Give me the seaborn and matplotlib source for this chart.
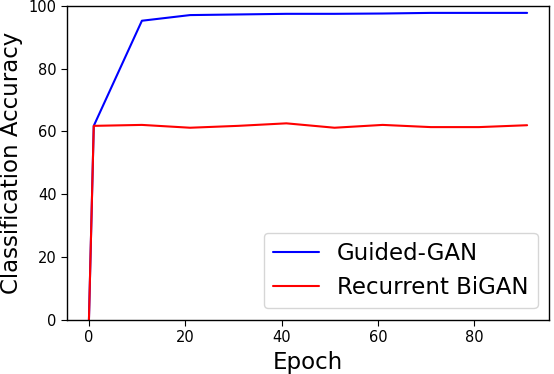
import pandas as pd
import matplotlib
matplotlib.use('Agg')
import matplotlib.pyplot as plt
import seaborn as sns

sns.set_style('ticks', {'text.color': 'black', 'axes.labelcolor': 'black',
                        'xtick.color': 'black', 'ytick.color': 'black'})
plt.rcParams['font.family'] = ['DejaVu Sans']

epochs = [0, 1, 11, 21, 31, 41, 51, 61, 71, 81, 91]
guided_gan = [0, 61.8, 95.3, 97.1, 97.3, 97.5, 97.5, 97.6, 97.8, 97.8, 97.8]
recurrent_bigan = [0, 61.8, 62.1, 61.2, 61.8, 62.6, 61.2, 62.1, 61.4, 61.4, 62.0]

df = pd.DataFrame({'Epoch': epochs * 2,
                   'acc': guided_gan + recurrent_bigan,
                   'model': ['Guided-GAN'] * len(epochs) + ['Recurrent BiGAN'] * len(epochs)})

fig, ax = plt.subplots(figsize=(5.54, 3.74), dpi=100)
sns.lineplot(data=df, x='Epoch', y='acc', hue='model',
             palette={'Guided-GAN': 'blue', 'Recurrent BiGAN': 'red'},
             linewidth=1.5, ax=ax)
ax.set_ylim(0, 100)
ax.set_xlabel('Epoch', fontsize=16.5)
ax.set_ylabel('Classification Accuracy', fontsize=16.5)
ax.tick_params(labelsize=10.5, direction='out', length=4, color='black')
for s in ax.spines.values():
    s.set_color('black')
    s.set_linewidth(1)
ax.legend(title=None, fontsize=16.5, loc='lower right')
fig.subplots_adjust(left=0.121, right=0.991, top=0.984, bottom=0.145)
fig.savefig('out.png')
